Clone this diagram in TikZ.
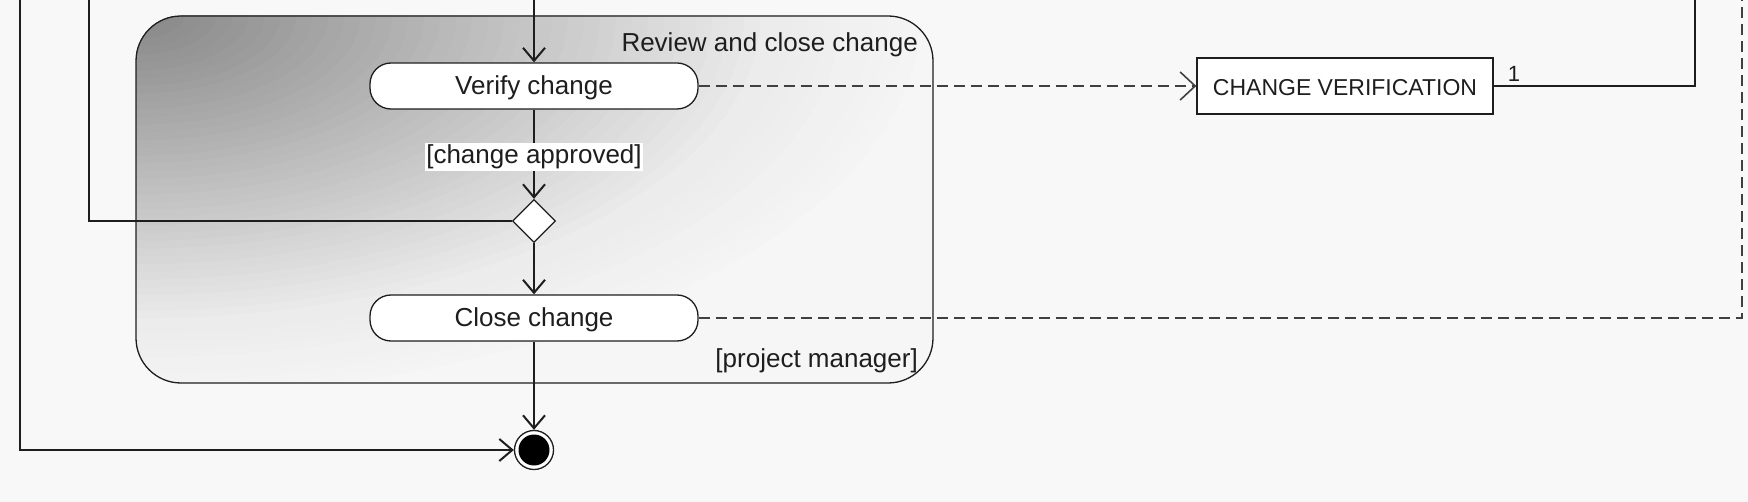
\documentclass[tikz,border=0pt]{standalone}
\usepackage{fontspec}
\setmainfont{Liberation Sans}
\usetikzlibrary{arrows.meta,shapes.geometric}
\definecolor{bgc}{RGB}{248,248,248}
\definecolor{lnc}{RGB}{30,30,30}
\definecolor{gD}{RGB}{246,246,246}
\begin{document}
\begin{tikzpicture}[x=1pt,y=-1pt,
  every node/.style={font=\fontsize{26}{30}\selectfont, text=lnc},
  container/.style={draw=lnc, line width=1.3pt, rounded corners=45pt, fill=gD,
    minimum width=797pt, minimum height=367pt, inner sep=0pt,
    path picture={
      \foreach \k in {50,49,...,1}{
        \pgfmathsetmacro{\ff}{\k/40}
        \pgfmathtruncatemacro{\gval}{\ff<1.0001 ? 134+102*\ff : min(246,236+10*(\ff-1)/0.25)}
        \fill[fill={rgb,255:red,\gval;green,\gval;blue,\gval}]
          (path picture bounding box.north west) ellipse [x radius=\ff*640pt, y radius=\ff*310pt];
      }}},
  action/.style={draw=lnc, line width=1.3pt, fill=white, rectangle, rounded corners=21pt,
    minimum width=328pt, minimum height=46pt, inner sep=0pt, text height=20pt, text depth=3.4pt},
  decision/.style={draw=lnc, line width=1.3pt, fill=white, diamond, aspect=1,
    minimum width=43pt, minimum height=43pt, inner sep=0pt},
  objbox/.style={draw=lnc, line width=1.3pt, fill=white, rectangle,
    minimum width=296pt, minimum height=56pt, inner sep=0pt, text height=20pt, text depth=0pt,
    font=\fontsize{23}{27}\selectfont},
  finalnode/.style={draw=lnc, line width=1.3pt, fill=white, circle, minimum size=39pt, inner sep=0pt,
    path picture={\fill[black] (path picture bounding box.center) circle (15.5pt);}},
  plainlabel/.style={inner sep=0pt},
  flow/.style={draw=lnc, line width=2pt, -{Straight Barb[length=13pt,width=22pt]}},
  plainline/.style={draw=lnc, line width=2pt},
  dflow/.style={draw=lnc!85, line width=1.6pt, dash pattern=on 11pt off 6pt,
    -{Straight Barb[length=15pt,width=28pt,line width=1.6pt]}},
  dline/.style={draw=lnc!85, line width=1.6pt, dash pattern=on 11pt off 6pt}
]
\fill[bgc] (0,0) rectangle (1748,502);
\useasboundingbox (0,0) rectangle (1748,502);

% partition
\node[container] (part) at (534.5,199.5) {};
\node[plainlabel, anchor=base east] (ttl) at (918,52) {Review and close change};
\node[plainlabel, anchor=base east] (role) at (918,367) {[project manager]};

% free ends
\coordinate (intop) at (534,0);
\coordinate (l1top) at (20,0);
\coordinate (l2top) at (89,0);
\coordinate (r1top) at (1695,0);
\coordinate (r2top) at (1742,0);

% nodes
\node[action] (verify) at (534,86) {Verify change};
\node[decision] (dec) at (534,221) {};
\node[action] (close) at (534,318) {Close change};
\node[finalnode] (final) at (534,450) {};
\node[objbox] (cv) at (1345,86) {CHANGE VERIFICATION};
\node[plainlabel, font=\fontsize{22}{26}\selectfont, anchor=base] (mult) at (1514,82) {1};

% connectors
\draw[flow] (intop) -- (verify);
\draw[flow] (verify) -- node[fill=white, inner xsep=1pt, inner ysep=2pt, yshift=-2.5pt] (guard) {[change approved]} (dec);
\draw[flow] (dec) -- (close);
\draw[flow] (close) -- (final);
\draw[plainline] (dec.west) -| (l2top);
\draw[flow] (l1top) |- (final.west);
\draw[dflow] (verify.east) -- (cv.west);
\draw[plainline] (cv.east) -| (r1top);
\draw[dline] (close.east) -| (r2top);
\end{tikzpicture}
\end{document}
